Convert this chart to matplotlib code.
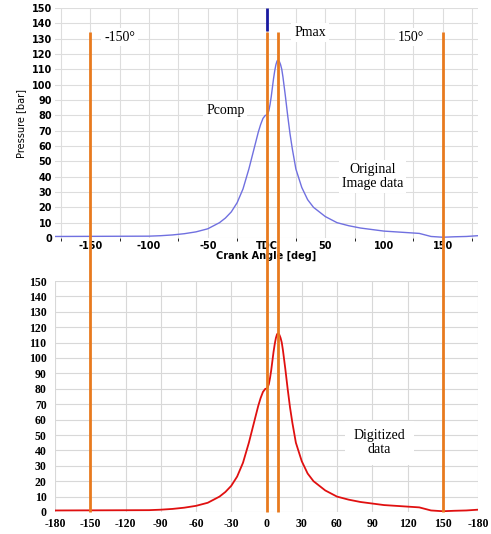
import matplotlib
matplotlib.use("Agg")
import matplotlib.pyplot as plt
import numpy as np

angle = [-180,-100,-90,-80,-70,-60,-50,-45,-40,-35,-30,-25,-20,-15,-10,-7,-5,-3,-1,0,1,2,3,4,5,6,7,8,9,10,11,12,13,14,16,18,20,22,25,30,35,40,45,50,60,70,80,90,100,110,120,130,140,150,160,170,180]
pressure = [1,1.2,1.5,2,2.8,4,6,8,10,13,17,23,32,45,60,69,74,78,80,80,81,83,87,92,98,104,109,113,115.5,116,115,113,110,105,93,80,68,58,45,33,25,20,17,14,10,8,6.5,5.5,4.5,4,3.5,3,1,0.5,0.8,1,1.5]
marker_angles = [-150, 0, 10, 150]
top_xticks = [-150, -100, -50, 0, 50, 100, 150]
top_xlabels = ["-150", "-100", "-50", "TDC", "50", "100", "150"]
bot_xticks = [-180,-150,-120,-90,-60,-30,0,30,60,90,120,150,180]
bot_xlabels = ["-180","-150","-120","-90","-60","-30","0","30","60","90","120","150","-180"]
yticks = list(range(0, 151, 10))

W, H = 491, 534
fig = plt.figure(figsize=(W/100, H/100), dpi=100)
def ax_rect(l, t, r, b):
    return [l/W, 1-b/H, (r-l)/W, (b-t)/H]

ax1 = fig.add_axes(ax_rect(55, 8, 478, 238))
ax1.plot(angle, pressure, color="#7070e0", lw=1)
ax1.set_xlim(-180, 180); ax1.set_ylim(0, 150)
ax1.set_yticks(yticks); ax1.set_xticks(top_xticks)
ax1.set_xticklabels(top_xlabels)
ax1.tick_params(labelsize=7, length=0, pad=2)
for l in ax1.get_xticklabels() + ax1.get_yticklabels():
    l.set_fontweight("bold")
ax1.set_xticks(np.arange(-175, 180, 25), minor=True)
ax1.grid(True, which="both", color="#dddddd", lw=0.8)
ax1.set_ylabel("Pressure [bar]", fontsize=7)
ax1.set_xlabel("Crank Angle [deg]", fontsize=7, fontweight="bold", labelpad=0)
for s in ax1.spines.values(): s.set_visible(False)
ax1.vlines(0, 135, 150, color="#1a1aa0", lw=2)
tb = dict(facecolor="white", edgecolor="none", pad=2)
ser = "Liberation Serif"
ax1.text(-125, 131, "-150°", fontsize=10, family=ser, ha="center", va="center", bbox=tb)
ax1.text(37, 134, "Pmax", fontsize=10, family=ser, ha="center", va="center", bbox=tb)
ax1.text(-35, 83, "Pcomp", fontsize=10, family=ser, ha="center", va="center", bbox=tb)
ax1.text(123, 131, "150°", fontsize=10, family=ser, ha="center", va="center", bbox=tb)
ax1.text(90, 40, "Original\nImage data", fontsize=10, family=ser, ha="center", va="center", linespacing=1.1, bbox=tb)

ax2 = fig.add_axes(ax_rect(55, 281, 478, 512))
ax2.plot(angle, pressure, color="#e01010", lw=1.3)
ax2.set_xlim(-180, 180); ax2.set_ylim(0, 150)
ax2.set_yticks(yticks); ax2.set_xticks(bot_xticks)
ax2.set_xticklabels(bot_xlabels)
ax2.tick_params(axis="x", length=0, pad=4)
ax2.tick_params(axis="y", length=0, pad=6)
for l in ax2.get_xticklabels() + ax2.get_yticklabels():
    l.set_fontweight("bold"); l.set_family(ser); l.set_fontsize(8.5)
ax2.grid(True, color="#d8d8d8", lw=0.8)
for s in ax2.spines.values(): s.set_visible(False)
ax2.text(96, 45, "Digitized\ndata", fontsize=10, family=ser, ha="center", va="center", linespacing=1.1,
         bbox=dict(facecolor="white", edgecolor="none", pad=6))

ov = fig.add_axes(ax_rect(55, 0, 478, 534))
ov.set_xlim(-180, 180); ov.set_ylim(534, 0)
ov.axis("off"); ov.patch.set_alpha(0)
ov.vlines(marker_angles, 32, 512, color="#e87a1e", lw=2)

fig.savefig("out.png", dpi=100)
